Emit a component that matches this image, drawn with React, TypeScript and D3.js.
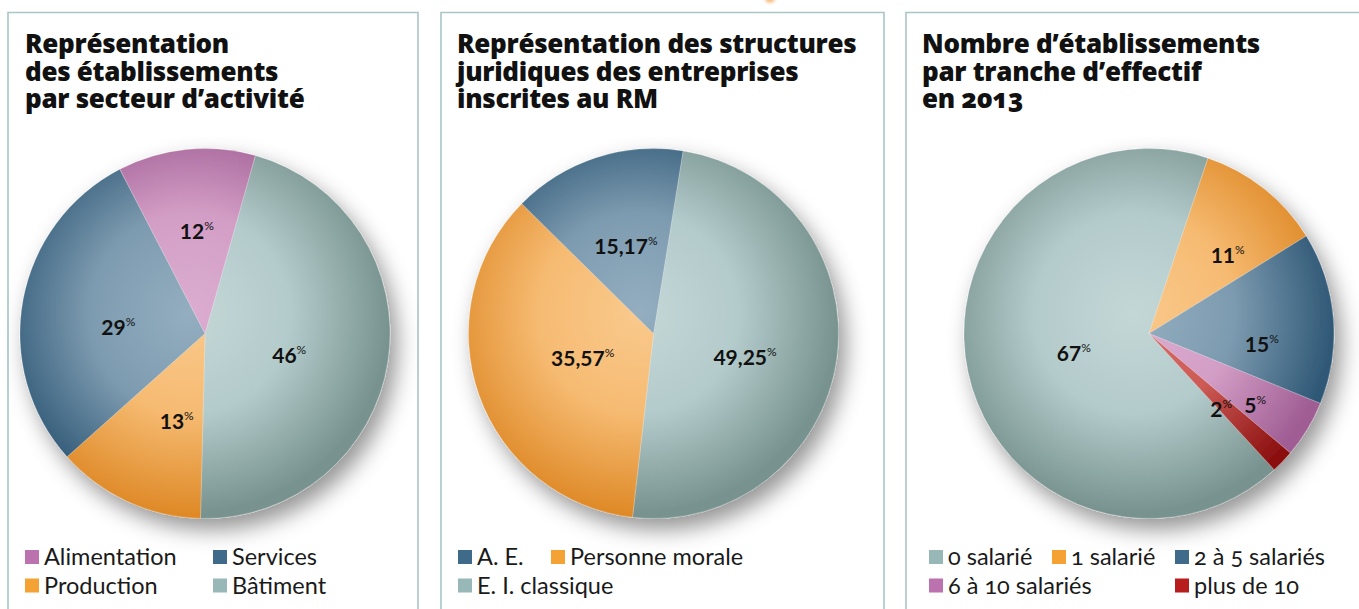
import React from "react";
import * as d3 from "d3";

// ---------- DATA ----------
const sectorCategories = ["Bâtiment", "Production", "Services", "Alimentation"];
const sectorValues = [46, 13, 29, 12];

const legalCategories = ["E. I. classique", "Personne morale", "A. E."];
const legalValues = [49.25, 35.57, 15.17];

const staffCategories = ["0 salarié", "1 salarié", "2 à 5 salariés", "6 à 10 salariés", "plus de 10"];
const staffValues = [67, 11, 15, 5, 2];

const sectorTitle = ["Représentation", "des établissements", "par secteur d’activité"];
const legalTitle = ["Représentation des structures", "juridiques des entreprises", "inscrites au RM"];
const staffTitle = ["Nombre d’établissements", "par tranche d’effectif", "en 2013"];

// ---------- STYLE ----------
type Tone = { legend: string; light: string; mid: string; dark: string };
const tones: Record<string, Tone> = {
  teal: { legend: "#98b7b7", light: "#c4d7d7", mid: "#b4cbcb", dark: "#78938f" },
  blue: { legend: "#3f6a8a", light: "#94aec0", mid: "#7d9bb0", dark: "#2f5876" },
  orange: { legend: "#f5a235", light: "#f9c98c", mid: "#f6bb72", dark: "#df8a28" },
  pink: { legend: "#bb72ae", light: "#dbadd0", mid: "#d39ec6", dark: "#9f5d93" },
  red: { legend: "#b81d1d", light: "#d9716a", mid: "#cc5a55", dark: "#8c1111" },
};
const toneOf: Record<string, string> = {
  "Bâtiment": "teal", "Production": "orange", "Services": "blue", "Alimentation": "pink",
  "E. I. classique": "teal", "Personne morale": "orange", "A. E.": "blue",
  "0 salarié": "teal", "1 salarié": "orange", "2 à 5 salariés": "blue",
  "6 à 10 salariés": "pink", "plus de 10": "red",
};

const FONT = "Lato, 'Open Sans', sans-serif";
const TITLE_FONT = "'Open Sans', Lato, sans-serif";
const BORDER = "#a9c5c6";

type PanelCfg = {
  id: string;
  x0: number; x1: number | null;
  title: string[];
  categories: string[];
  values: number[];
  startDeg: number;
  decimals: number;
  labelR: number[];      // label radius fraction
  labelDA: number[];     // label angle nudge (deg)
  legend: { key: string; col: number; row: number }[];
  legendCols: number[];  // x offsets of legend columns
};

const R = 185;
const CY = 333.5;

const panels: PanelCfg[] = [
  {
    id: "p1", x0: 8, x1: 418, title: sectorTitle,
    categories: sectorCategories, values: sectorValues, startDeg: 15.8, decimals: 0,
    labelR: [0.47, 0.5, 0.47, 0.555], labelDA: [5.8, -7, -6.4, 1.2],
    legend: [
      { key: "Alimentation", col: 0, row: 0 }, { key: "Services", col: 1, row: 0 },
      { key: "Production", col: 0, row: 1 }, { key: "Bâtiment", col: 1, row: 1 },
    ],
    legendCols: [25, 213],
  },
  {
    id: "p2", x0: 441, x1: 884, title: legalTitle,
    categories: legalCategories, values: legalValues, startDeg: 9.2, decimals: 2,
    labelR: [0.512, 0.405, 0.496], labelDA: [7, 0.3, 0.6],
    legend: [
      { key: "A. E.", col: 0, row: 0 }, { key: "Personne morale", col: 1, row: 0 },
      { key: "E. I. classique", col: 0, row: 1 },
    ],
    legendCols: [458, 551],
  },
  {
    id: "p3", x0: 906, x1: null, title: staffTitle,
    categories: staffCategories, values: staffValues, startDeg: 137.4, decimals: 0,
    labelR: [0.42, 0.6, 0.613, 0.695, 0.568], labelDA: [-2.7, 6.7, 10.4, 3.1, 2.8],
    legend: [
      { key: "0 salarié", col: 0, row: 0 }, { key: "1 salarié", col: 1, row: 0 },
      { key: "2 à 5 salariés", col: 2, row: 0 },
      { key: "6 à 10 salariés", col: 0, row: 1 }, { key: "plus de 10", col: 2, row: 1 },
    ],
    legendCols: [929, 1052, 1175],
  },
];
const pieCX: Record<string, number> = { p1: 205, p2: 653.5, p3: 1149 };
const titleX: Record<string, number> = { p1: 25, p2: 457, p3: 922 };

const toRad = (d: number) => (d * Math.PI) / 180;

function Panel({ cfg }: { cfg: PanelCfg }) {
  const cx = pieCX[cfg.id];
  const start = toRad(cfg.startDeg);
  const pie = d3.pie<number>().sort(null).startAngle(start).endAngle(start + 2 * Math.PI);
  const arcs = pie(cfg.values);
  const arc = d3.arc<d3.PieArcDatum<number>>().innerRadius(0).outerRadius(R);
  const fmt = (v: number) => d3.format(`.${cfg.decimals}f`)(v).replace(".", ",");
  const H = 609;
  return (
    <g>
      {/* panel frame */}
      <path
        d={
          cfg.x1 === null
            ? `M${cfg.x0},${H + 2}V12.5H1362`
            : `M${cfg.x0},${H + 2}V12.5H${cfg.x1}V${H + 2}`
        }
        fill="none"
        stroke={BORDER}
        strokeWidth={1.6}
      />
      {/* title */}
      {cfg.title.map((t, i) => (
        <text key={i} x={titleX[cfg.id]} y={53 + i * 27.5} fontFamily={TITLE_FONT} fontWeight={800}
          fontSize={26} fill="#111" letterSpacing={-0.3}
          style={{ fontVariantNumeric: "oldstyle-nums" }}>{t}</text>
      ))}
      {/* pie */}
      <g transform={`translate(${cx},${CY})`}>
        <g filter="url(#shadow)">
          {arcs.map((a, i) => (
            <path key={i} d={arc(a) || ""} fill={`url(#grad-${cfg.id}-${i})`}
              stroke="#ffffff" strokeOpacity={0.35} strokeWidth={0.6} />
          ))}
        </g>
        <defs>
          {arcs.map((a, i) => {
            const t = tones[toneOf[cfg.categories[i]]];
            return (
              <radialGradient key={i} id={`grad-${cfg.id}-${i}`} gradientUnits="userSpaceOnUse"
                cx={-15} cy={-20} r={R * 1.08} fx={-15} fy={-20}>
                <stop offset="0" stopColor={t.light} />
                <stop offset="0.5" stopColor={t.mid} />
                <stop offset="1" stopColor={t.dark} />
              </radialGradient>
            );
          })}
        </defs>
        {arcs.map((a, i) => {
          const mid = (a.startAngle + a.endAngle) / 2 + toRad(cfg.labelDA[i]);
          const r = cfg.labelR[i] * R;
          const x = Math.sin(mid) * r;
          const y = -Math.cos(mid) * r;
          return (
            <text key={i} x={x} y={y + 7.5} textAnchor="middle" fontFamily={FONT}
              fontWeight={700} fontSize={21} fill="#111">
              {fmt(cfg.values[i])}
              <tspan fontSize={12} dy={-9} fontWeight={400}>%</tspan>
            </text>
          );
        })}
      </g>
      {/* legend */}
      {cfg.legend.map((l, i) => {
        const x = cfg.legendCols[l.col];
        const yb = 565 + l.row * 28.5;
        return (
          <g key={i}>
            <rect x={x} y={yb - 15} width={14} height={14} fill={tones[toneOf[l.key]].legend} />
            <text x={x + 19} y={yb} fontFamily={FONT} fontSize={23.5} fill="#1a1a1a"
              style={{ fontVariantNumeric: "oldstyle-nums" }}>{l.key}</text>
          </g>
        );
      })}
    </g>
  );
}

export default function App() {
  return (
    <svg width={1359} height={609} style={{ position: "absolute", left: 0, top: 0, background: "#fff" }}>
      <defs>
        <filter id="shadow" x="-30%" y="-30%" width="170%" height="170%">
          <feDropShadow dx={7} dy={11} stdDeviation={11} floodColor="#000" floodOpacity={0.42} />
        </filter>
        <filter id="blurDot" x="-100%" y="-100%" width="300%" height="300%">
          <feGaussianBlur stdDeviation={1.5} />
        </filter>
      </defs>
      <rect width={1359} height={609} fill="#fff" />
      <ellipse cx={770} cy={-1} rx={5} ry={4} fill="#f5b06a" filter="url(#blurDot)" opacity={0.8} />
      {panels.map((p) => (
        <Panel key={p.id} cfg={p} />
      ))}
    </svg>
  );
}
